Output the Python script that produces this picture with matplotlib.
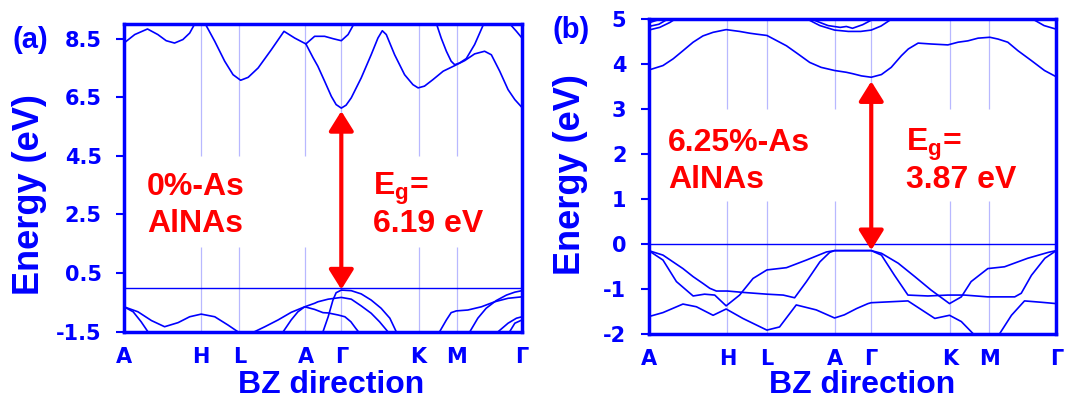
import matplotlib
matplotlib.use("Agg")
from matplotlib import pyplot as plt

plt.rcParams['font.family'] = 'Liberation Sans'
plt.rcParams['font.weight'] = 'bold'
plt.rcParams['mathtext.fontset'] = 'custom'
plt.rcParams['mathtext.rm'] = 'Liberation Sans:bold'
plt.rcParams['mathtext.it'] = 'Liberation Sans:bold'
plt.rcParams['mathtext.bf'] = 'Liberation Sans:bold'

BLUE = '#0000ff'
RED = '#ff0000'
GRID = '#b8b8ff'

# high-symmetry path (same for both panels)
kpath_labels = ['A', 'H', 'L', 'A', 'Γ', 'K', 'M', 'Γ']
kpath_pos = [0, 0.193, 0.29, 0.456, 0.546, 0.74, 0.836, 1.0]

# ---------------- panel (a): 0%-As AlNAs ----------------
a_c1_k = [0.0, 0.027, 0.059, 0.085, 0.106, 0.127, 0.148, 0.165, 0.178, 0.19]
a_c1_e = [8.35, 8.64, 8.83, 8.64, 8.43, 8.35, 8.47, 8.69, 9.01, 9.3]

a_c2_k = [0.195, 0.204, 0.228, 0.253, 0.274, 0.293, 0.312, 0.337, 0.370, 0.402, 0.429, 0.457,
          0.479, 0.504, 0.525, 0.546, 0.563, 0.578, 0.585]
a_c2_e = [9.3, 9.01, 8.41, 7.73, 7.27, 7.08, 7.18, 7.50, 8.12, 8.75, 8.52, 8.32,
          8.58, 8.58, 8.50, 8.43, 8.64, 9.01, 9.2]

a_c3_k = [0.457, 0.475, 0.487, 0.504, 0.521, 0.533, 0.546, 0.558, 0.571, 0.596, 0.621, 0.638,
          0.649, 0.659, 0.680, 0.705, 0.726, 0.739, 0.755, 0.776, 0.802, 0.831, 0.856, 0.881,
          0.906, 0.923, 0.944, 0.965, 0.982, 1.0]
a_c3_e = [8.32, 7.85, 7.56, 7.05, 6.53, 6.25, 6.13, 6.23, 6.48, 7.16, 7.95, 8.52,
          8.77, 8.64, 7.95, 7.27, 6.93, 6.82, 6.88, 7.10, 7.39, 7.58, 7.75, 7.98,
          8.07, 7.95, 7.39, 6.76, 6.42, 6.15]

a_c4_k = [0.78, 0.785, 0.797, 0.810, 0.822, 0.831, 0.843, 0.860, 0.881, 0.904, 0.91]
a_c4_e = [9.2, 9.01, 8.52, 8.07, 7.73, 7.61, 7.67, 7.82, 8.30, 9.01, 9.2]

a_c5_k = [0.96, 0.969, 0.986, 1.0]
a_c5_e = [9.2, 9.01, 8.75, 8.52]

a_v1_k = [0.0, 0.035, 0.069, 0.102, 0.136, 0.165, 0.194, 0.228, 0.261, 0.286, 0.30]
a_v1_e = [-0.65, -0.82, -1.12, -1.33, -1.19, -0.99, -0.90, -0.99, -1.27, -1.50, -1.7]

a_v2_k = [0.0, 0.023, 0.043, 0.06, 0.07]
a_v2_e = [-0.65, -0.82, -1.16, -1.50, -1.7]

a_v3_k = [0.315, 0.328, 0.354, 0.387, 0.420, 0.454, 0.479, 0.487, 0.513, 0.546, 0.571, 0.596,
          0.621, 0.642, 0.663, 0.675]
a_v3_e = [-1.7, -1.50, -1.33, -1.10, -0.84, -0.65, -0.53, -0.48, -0.39, -0.33, -0.39, -0.62,
          -0.87, -1.16, -1.50, -1.7]

a_v4_k = [0.39, 0.40, 0.42, 0.437, 0.454, 0.479, 0.50, 0.513, 0.538, 0.555, 0.570, 0.582, 0.589, 0.595]
a_v4_e = [-1.7, -1.50, -1.10, -0.82, -0.65, -0.74, -0.85, -0.86, -0.93, -0.99, -1.16, -1.38, -1.50, -1.7]

a_v5_k = [0.495, 0.50, 0.513, 0.525, 0.533, 0.546, 0.571, 0.596, 0.621, 0.646, 0.668, 0.684, 0.69]
a_v5_e = [-1.7, -1.50, -0.99, -0.42, -0.17, -0.08, -0.10, -0.21, -0.42, -0.70, -1.04, -1.50, -1.7]

a_v6_k = [0.787, 0.793, 0.810, 0.822, 0.835, 0.864, 0.898, 0.931, 0.965, 1.0]
a_v6_e = [-1.7, -1.50, -1.10, -0.85, -0.79, -0.76, -0.65, -0.48, -0.36, -0.31]

a_v7_k = [0.862, 0.869, 0.889, 0.910, 0.935, 0.961, 0.982, 1.0]
a_v7_e = [-1.7, -1.50, -1.04, -0.70, -0.44, -0.25, -0.15, -0.10]

a_v8_k = [0.935, 0.940, 0.965, 0.986, 1.0]
a_v8_e = [-1.7, -1.50, -1.21, -1.04, -0.99]

a_v9_k = [0.965, 0.969, 0.982, 1.0]
a_v9_e = [-1.7, -1.50, -1.21, -1.10]

# ---------------- panel (b): 6.25%-As AlNAs ----------------
b_c1_k = [0.0, 0.035, 0.06, 0.084, 0.109, 0.133, 0.158, 0.19, 0.223, 0.248, 0.264, 0.29,
          0.313, 0.338, 0.366, 0.395, 0.423, 0.456, 0.485, 0.5, 0.522, 0.546, 0.571, 0.595,
          0.62, 0.637, 0.661, 0.693, 0.734, 0.759, 0.783, 0.808, 0.837, 0.857, 0.881, 0.906,
          0.939, 0.971, 1.0]
b_c1_e = [3.87, 3.97, 4.12, 4.30, 4.49, 4.63, 4.71, 4.77, 4.73, 4.69, 4.67, 4.64,
          4.53, 4.41, 4.23, 4.04, 3.93, 3.86, 3.82, 3.79, 3.74, 3.71, 3.77, 3.93,
          4.19, 4.34, 4.47, 4.45, 4.43, 4.49, 4.52, 4.58, 4.60, 4.56, 4.49, 4.30,
          4.08, 3.86, 3.72]

b_u1_k = [0.0, 0.027, 0.052, 0.064, 0.075]
b_u1_e = [4.76, 4.82, 4.93, 5.0, 5.1]
b_u2_k = [0.0, 0.025, 0.046, 0.06]
b_u2_e = [4.84, 4.89, 5.0, 5.1]
b_u3_k = [0.0, 0.027, 0.04]
b_u3_e = [4.92, 5.0, 5.1]

b_u4_k = [0.38, 0.39, 0.42, 0.456, 0.49, 0.52, 0.546, 0.57, 0.595, 0.605]
b_u4_e = [5.1, 5.0, 4.86, 4.76, 4.73, 4.73, 4.76, 4.85, 5.0, 5.1]
b_u5_k = [0.39, 0.40, 0.44, 0.47, 0.485, 0.50, 0.525, 0.55, 0.56]
b_u5_e = [5.1, 5.0, 4.86, 4.82, 4.84, 4.80, 4.88, 5.0, 5.1]
b_u6_k = [0.935, 0.943, 0.97, 1.0]
b_u6_e = [5.1, 5.0, 4.86, 4.78]

b_v1_k = [0.0, 0.035, 0.084, 0.109, 0.133, 0.15, 0.166, 0.193, 0.231, 0.29, 0.33, 0.358,
          0.387, 0.42, 0.444, 0.456, 0.546, 0.571, 0.612, 0.653, 0.693, 0.738, 0.767,
          0.791, 0.832, 0.873, 0.93, 0.98, 1.0]
b_v1_e = [-0.15, -0.25, -0.55, -0.73, -0.88, -0.99, -1.05, -1.05, -1.08, -1.12, -1.14, -1.20,
          -0.84, -0.40, -0.19, -0.15, -0.15, -0.21, -0.43, -0.73, -1.03, -1.33, -1.18,
          -0.84, -0.55, -0.51, -0.32, -0.19, -0.15]

b_v2_k = [0.0, 0.035, 0.068, 0.109, 0.137, 0.162, 0.19, 0.223, 0.256, 0.29, 0.338, 0.387,
          0.436, 0.456, 0.546, 0.571, 0.603, 0.636, 0.685, 0.734, 0.775, 0.832, 0.898,
          0.914, 0.939, 0.972, 1.0]
b_v2_e = [-0.15, -0.36, -0.84, -1.16, -1.12, -1.14, -1.38, -1.14, -0.77, -0.58, -0.53, -0.36,
          -0.18, -0.15, -0.15, -0.25, -0.70, -1.14, -1.16, -1.14, -1.14, -1.18, -1.18,
          -1.10, -0.70, -0.32, -0.15]

b_v3_k = [0.0, 0.035, 0.084, 0.117, 0.158, 0.19, 0.231, 0.29, 0.321, 0.362, 0.411, 0.456,
          0.48, 0.51, 0.538, 0.546, 0.636, 0.702, 0.738, 0.767, 0.796, 0.83, 0.861, 0.89,
          0.922, 0.963, 1.0]
b_v3_e = [-1.62, -1.53, -1.34, -1.40, -1.59, -1.45, -1.66, -1.92, -1.85, -1.36, -1.47, -1.65,
          -1.58, -1.44, -1.33, -1.31, -1.27, -1.66, -1.59, -1.73, -2.0, -2.25, -2.0, -1.59,
          -1.27, -1.30, -1.33]

panels = [
    dict(bands=[(a_c1_k, a_c1_e), (a_c2_k, a_c2_e), (a_c3_k, a_c3_e), (a_c4_k, a_c4_e),
                (a_c5_k, a_c5_e), (a_v1_k, a_v1_e), (a_v2_k, a_v2_e), (a_v3_k, a_v3_e),
                (a_v4_k, a_v4_e), (a_v5_k, a_v5_e), (a_v6_k, a_v6_e), (a_v7_k, a_v7_e),
                (a_v8_k, a_v8_e), (a_v9_k, a_v9_e)],
         ylim=(-1.5, 9.0), yticks=[-1.5, 0.5, 2.5, 4.5, 6.5, 8.5],
         ytlabels=['-1.5', '0.5', '2.5', '4.5', '6.5', '8.5'],
         gap=(1.4, 4.5), arrow=(6.03, -0.06),
         rect=[124 / 1067, 68.3 / 400, 398 / 1067, 307.7 / 400],
         name=['0%-As', 'AlNAs'], name_xy=(0.058, 0.444, 0.324),
         eg='6.19 eV', eg_xy=(0.626, 0.444, 0.324),
         xlab_xy=(0.52, -0.2), tag='(a)', tag_xy=(13 / 1067, 0.90),
         ylab_xy=(30 / 1067, 1 - 195 / 400)),
    dict(bands=[(b_c1_k, b_c1_e), (b_u1_k, b_u1_e), (b_u2_k, b_u2_e), (b_u3_k, b_u3_e),
                (b_u4_k, b_u4_e), (b_u5_k, b_u5_e), (b_u6_k, b_u6_e),
                (b_v1_k, b_v1_e), (b_v2_k, b_v2_e), (b_v3_k, b_v3_e)],
         ylim=(-2, 5), yticks=[-2, -1, 0, 1, 2, 3, 4, 5],
         ytlabels=['-2', '-1', '0', '1', '2', '3', '4', '5'],
         gap=(0.95, 3.0), arrow=(3.62, -0.14),
         rect=[648.7 / 1067, 66.3 / 400, 407.6 / 1067, 314.4 / 400],
         name=['6.25%-As', 'AlNAs'], name_xy=(0.047, 0.581, 0.463),
         eg='3.87 eV', eg_xy=(0.631, 0.581, 0.463),
         xlab_xy=(0.523, -0.19), tag='(b)', tag_xy=(552 / 1067, 0.926),
         ylab_xy=(571 / 1067, 1 - 175 / 400)),
]

fig = plt.figure(figsize=(10.67, 4.0), dpi=100)

for p in panels:
    ax = fig.add_axes(p['rect'])
    lo, hi = p['ylim']
    ax.set_xlim(0, 1)
    ax.set_ylim(lo, hi)

    # k-point guide lines, broken where the labels sit
    inner = kpath_pos[1:-1]
    ax.vlines(inner, lo, p['gap'][0], color=GRID, lw=0.9, zorder=1)
    ax.vlines(inner, p['gap'][1], hi, color=GRID, lw=0.9, zorder=1)

    for k, e in p['bands']:
        ax.plot(k, e, color=BLUE, lw=1.2, zorder=2)
    ax.axhline(0, color=BLUE, lw=1.0, zorder=2)

    for s in ax.spines.values():
        s.set_color(BLUE)
        s.set_linewidth(2.5)
    ax.set_xticks(kpath_pos)
    ax.set_xticklabels(kpath_labels, fontsize=15, fontweight='bold', family='DejaVu Sans')
    ax.set_yticks(p['yticks'])
    ax.set_yticklabels(p['ytlabels'], fontsize=15, fontweight='bold', family='DejaVu Sans')
    ax.tick_params(axis='x', length=0, pad=11, labelcolor=BLUE)
    ax.tick_params(axis='y', direction='out', length=6, width=1.5, color=BLUE,
                   labelcolor=BLUE, pad=10)

    kg = kpath_pos[4]
    ax.annotate('', xy=(kg, p['arrow'][0]), xytext=(kg, p['arrow'][1]),
                arrowprops=dict(arrowstyle='<|-|>,head_length=0.4,head_width=0.25',
                                color=RED, lw=3, mutation_scale=30,
                                shrinkA=0, shrinkB=0), zorder=4)

    nx, ny1, ny2 = p['name_xy']
    ax.text(nx, ny1, p['name'][0], transform=ax.transAxes, color=RED, fontsize=23, va='baseline')
    ax.text(nx, ny2, p['name'][1], transform=ax.transAxes, color=RED, fontsize=23, va='baseline')
    ex, ey1, ey2 = p['eg_xy']
    ax.text(ex, ey1, r'E$_\mathrm{g}$=', transform=ax.transAxes, color=RED, fontsize=23, va='baseline')
    ax.text(ex, ey2, p['eg'], transform=ax.transAxes, color=RED, fontsize=23, va='baseline')

    ax.text(p['xlab_xy'][0], p['xlab_xy'][1], 'BZ direction', transform=ax.transAxes,
            ha='center', va='baseline', fontsize=23, color=BLUE)
    fig.text(p['ylab_xy'][0], p['ylab_xy'][1], 'Energy (eV)', rotation=90,
             ha='center', va='center', fontsize=26, color=BLUE)
    fig.text(p['tag_xy'][0], p['tag_xy'][1], p['tag'], ha='left', va='center',
             fontsize=21, color=BLUE)

fig.savefig('out.png', dpi=100)
